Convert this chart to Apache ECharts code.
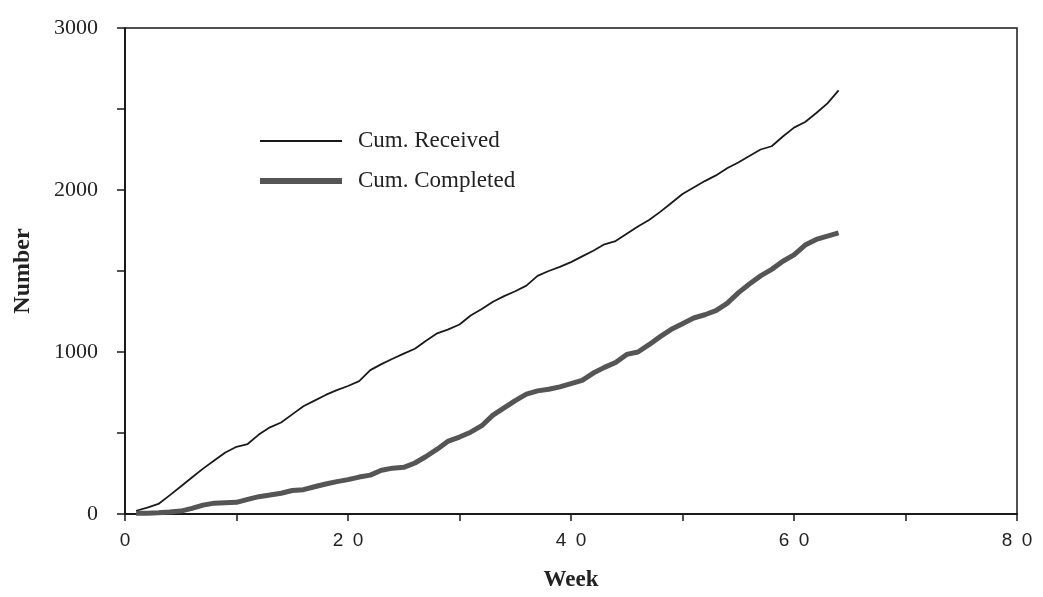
<!DOCTYPE html>
<html>
<head>
<meta charset="utf-8">
<script src="https://cdn.jsdelivr.net/npm/echarts@6/dist/echarts.min.js"></script>
<style>
html,body{margin:0;padding:0;background:#fff;}
#chart{width:1043px;height:597px;}
</style>
</head>
<body>
<div id="chart"></div>
<script>
// Week numbers
const weeks = [1,2,3,4,5,6,7,8,9,10,11,12,13,14,15,16,17,18,19,20,21,22,23,24,25,26,27,28,29,30,31,32,
  33,34,35,36,37,38,39,40,41,42,43,44,45,46,47,48,49,50,51,52,53,54,55,56,57,58,59,60,61,62,63,64];
// Cumulative received
const cumReceived = [20,40,62,115,170,225,280,330,380,415,432,490,535,565,615,665,700,735,765,790,820,888,925,958,
  990,1020,1070,1115,1140,1170,1225,1265,1310,1345,1375,1410,1470,1500,1525,1555,1590,1625,1665,1685,1730,1775,
  1815,1865,1920,1975,2015,2055,2090,2134,2170,2210,2250,2270,2330,2385,2420,2475,2535,2615];
// Cumulative completed
const cumCompleted = [5,5,8,12,18,35,55,67,70,72,90,107,117,128,145,150,168,185,200,212,228,240,270,283,
  288,315,355,400,450,475,505,545,610,655,700,740,760,770,785,805,825,870,905,935,985,1000,1045,1095,
  1140,1175,1210,1230,1255,1300,1365,1420,1470,1510,1560,1600,1660,1695,1715,1735];
const seriesNames = ['Cum. Received', 'Cum. Completed'];
const xLabelValues = [0, 20, 40, 60, 80];
const yLabelValues = [0, 1000, 2000, 3000];
const xAxisName = 'Week';
const yAxisName = 'Number';

const chart = echarts.init(document.getElementById('chart'));
const pair = (xs, ys) => xs.map((x, i) => [x, ys[i]]);
const legendText = { fontFamily: 'Liberation Serif', fontSize: 23, lineHeight: 24, color: '#222', padding: [0, 0, 0, 11] };

chart.setOption({
  animation: false,
  backgroundColor: '#ffffff',
  grid: {
    left: 125, right: 26, top: 28, bottom: 76,
    show: true, borderColor: '#1a1a1a', borderWidth: 1.5, backgroundColor: 'transparent'
  },
  legend: [
    {
      left: 255, top: 124, itemWidth: 82, itemHeight: 2,
      textStyle: legendText,
      data: [{ name: seriesNames[0], icon: 'rect', itemStyle: { color: '#1a1a1a', borderWidth: 0 } }]
    },
    {
      left: 255, top: 164, itemWidth: 82, itemHeight: 6,
      textStyle: legendText,
      data: [{ name: seriesNames[1], icon: 'rect', itemStyle: { color: '#555', borderWidth: 0 } }]
    }
  ],
  xAxis: {
    type: 'value', min: 0, max: 80, interval: 10,
    name: xAxisName, nameLocation: 'middle', nameGap: 55,
    nameTextStyle: { fontFamily: 'Liberation Serif', fontWeight: 'bold', fontSize: 23, color: '#222' },
    axisLine: { lineStyle: { color: '#1a1a1a', width: 2 } },
    axisTick: { inside: false, length: 7, lineStyle: { color: '#1a1a1a', width: 1.5 } },
    splitLine: { show: false },
    axisLabel: {
      margin: 17, fontFamily: 'Liberation Sans', fontSize: 19, color: '#222',
      formatter: v => xLabelValues.includes(v) ? String(v).split('').join('\u2002') : ''
    }
  },
  yAxis: {
    type: 'value', min: 0, max: 3000, interval: 500,
    name: yAxisName, nameLocation: 'middle', nameGap: 90,
    nameTextStyle: { fontFamily: 'Liberation Serif', fontWeight: 'bold', fontSize: 24, color: '#222' },
    axisLine: { lineStyle: { color: '#1a1a1a', width: 2 } },
    axisTick: { inside: false, length: 8, lineStyle: { color: '#1a1a1a', width: 1.5 } },
    splitLine: { show: false },
    axisLabel: {
      margin: 27, fontFamily: 'Liberation Serif', fontSize: 22, color: '#222',
      formatter: v => yLabelValues.includes(v) ? String(v) : ''
    }
  },
  series: [
    {
      name: seriesNames[0], type: 'line', data: pair(weeks, cumReceived),
      symbol: 'none', smooth: false,
      lineStyle: { color: '#1a1a1a', width: 1.8 }, itemStyle: { color: '#1a1a1a' }
    },
    {
      name: seriesNames[1], type: 'line', data: pair(weeks, cumCompleted),
      symbol: 'none', smooth: false,
      lineStyle: { color: '#555', width: 5 }, itemStyle: { color: '#555' }
    }
  ]
});
</script>
</body>
</html>
